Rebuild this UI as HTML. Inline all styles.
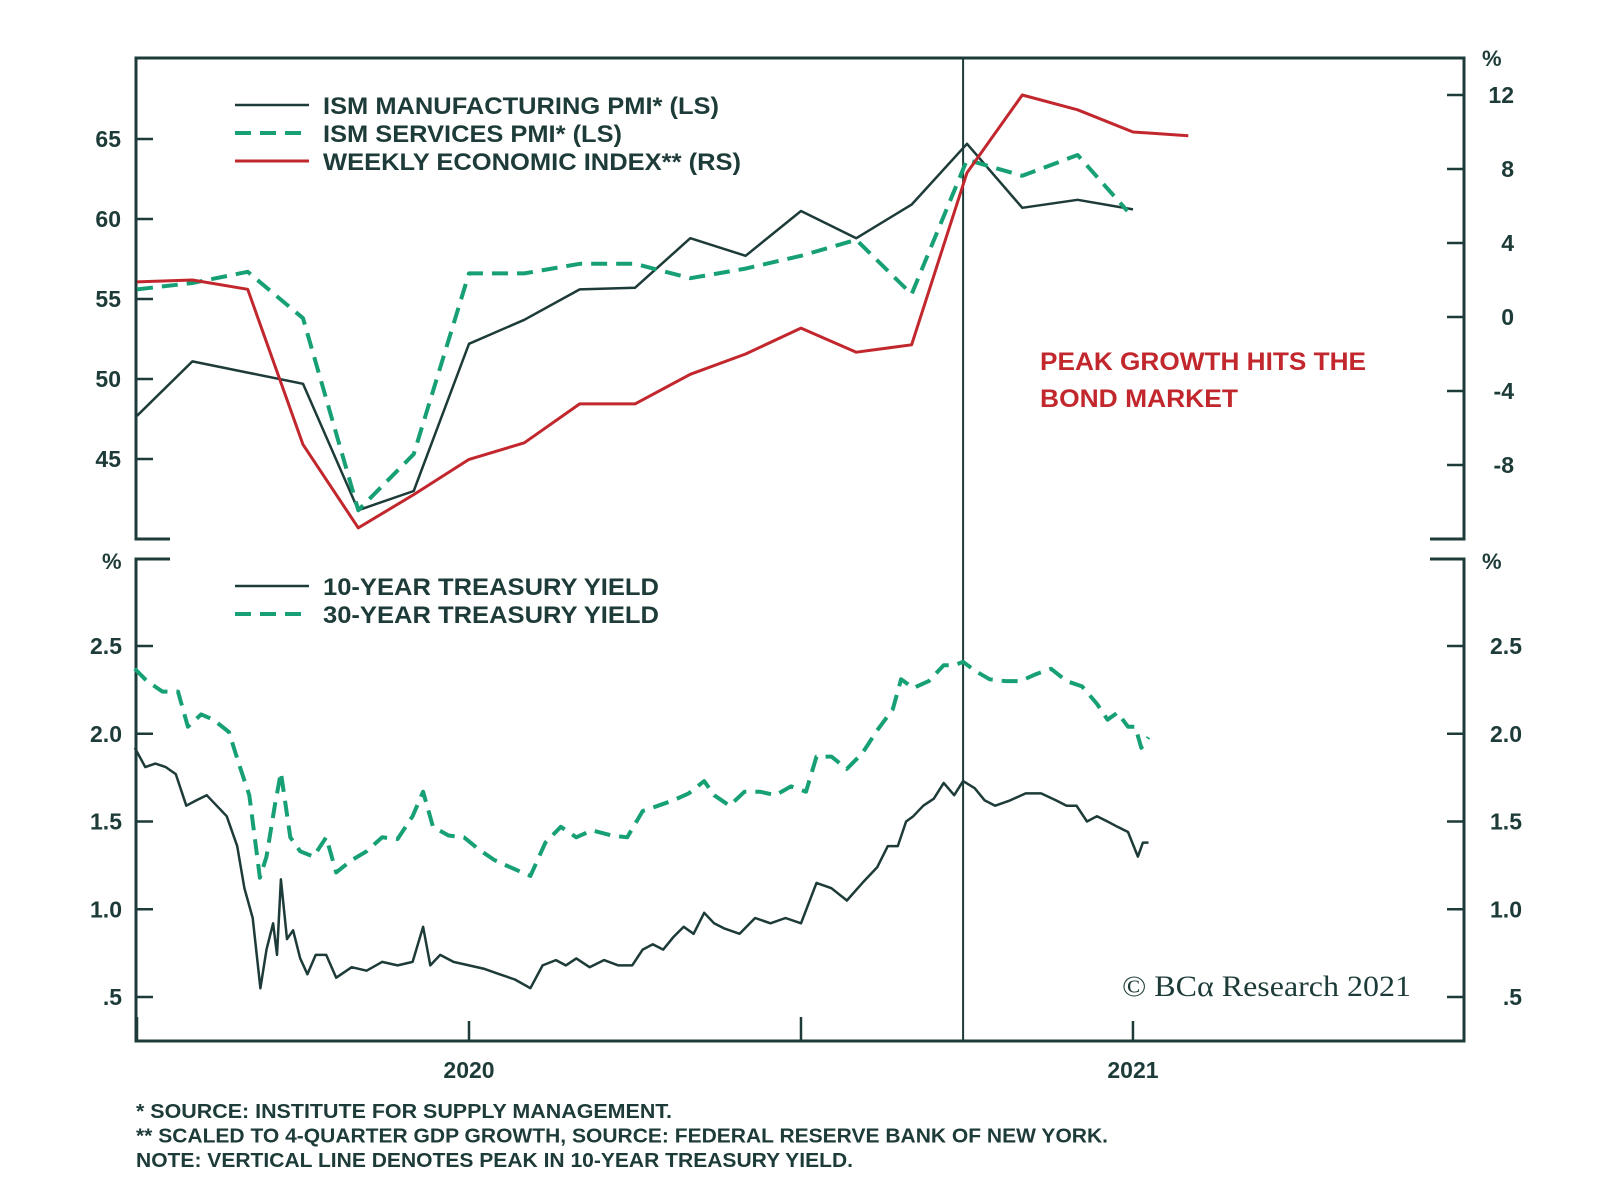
<!DOCTYPE html>
<html><head><meta charset="utf-8"><style>
html,body{margin:0;padding:0;background:#fff;}
svg{display:block;font-family:"Liberation Sans",Arial,sans-serif;}
.t{font-weight:bold;fill:#1d3b38;}
</style></head><body>
<svg id="chart" width="1600" height="1191" viewBox="0 0 1600 1191" xmlns="http://www.w3.org/2000/svg">
<g id="frame"></g>
<g id="series"></g>
<g id="labels"></g>
</svg>
<script>
// Month offsets relative to Jan 2020
const topMonths=[-6,-5,-4,-3,-2,-1,0,1,2,3,4,5,6,7,8,9,10,11,12];
const ismManufacturing=[47.7,51.1,50.4,49.7,41.8,43.0,52.2,53.7,55.6,55.7,58.8,57.7,60.5,58.8,60.9,64.7,60.7,61.2,60.6];
const ismServices=[55.6,56.0,56.7,53.8,41.8,45.3,56.6,56.6,57.2,57.2,56.3,56.9,57.7,58.7,55.3,63.7,62.7,64.0,60.5];
const ismServicesEndMonth=11.9;
const weiMonths=[-6,-5,-4,-3,-2,-1,0,1,2,3,4,5,6,7,8,9,10,11,12,13];
const weeklyEconomicIndex=[1.9,2.0,1.5,-6.9,-11.4,-9.6,-7.7,-6.8,-4.7,-4.7,-3.1,-2.0,-0.6,-1.9,-1.5,7.8,12.0,11.2,10.0,9.8];
const leftTicks=[65,60,55,50,45];
const rightTicks=[12,8,4,0,-4,-8];
const lowerTicks=[2.5,2.0,1.5,1.0,0.5];
const lowerTickLabels=["2.5","2.0","1.5","1.0",".5"];
const yearTicks=[0,12];
const yearLabels=["2020","2021"];
const minorXTicks=[-6,6];
const peakMonth=8.93;
const t10Months=[-6.04,-5.85,-5.67,-5.48,-5.30,-5.11,-4.93,-4.74,-4.56,-4.38,-4.19,-4.06,-3.91,-3.77,-3.66,-3.54,-3.47,-3.40,-3.29,-3.18,-3.05,-2.92,-2.77,-2.58,-2.40,-2.12,-1.85,-1.57,-1.29,-1.02,-0.83,-0.70,-0.52,-0.28,0,0.28,0.55,0.83,1.11,1.33,1.57,1.75,1.94,2.18,2.44,2.70,2.95,3.14,3.32,3.51,3.69,3.88,4.06,4.25,4.43,4.62,4.89,5.17,5.45,5.72,6.00,6.28,6.55,6.83,7.11,7.38,7.57,7.75,7.90,8.03,8.21,8.40,8.58,8.77,8.93,9.14,9.32,9.51,9.78,10.06,10.34,10.61,10.80,10.98,11.17,11.35,11.54,11.72,11.91,12.09,12.18,12.28];
const t10Yield=[1.92,1.81,1.83,1.81,1.77,1.59,1.62,1.65,1.59,1.53,1.36,1.12,0.95,0.55,0.77,0.92,0.74,1.17,0.83,0.88,0.72,0.63,0.74,0.74,0.61,0.67,0.65,0.70,0.68,0.70,0.90,0.68,0.74,0.70,0.68,0.66,0.63,0.60,0.55,0.68,0.71,0.68,0.72,0.67,0.71,0.68,0.68,0.77,0.80,0.77,0.84,0.90,0.86,0.98,0.92,0.89,0.86,0.95,0.92,0.95,0.92,1.15,1.12,1.05,1.15,1.24,1.36,1.36,1.50,1.53,1.59,1.63,1.72,1.65,1.73,1.69,1.62,1.59,1.62,1.66,1.66,1.62,1.59,1.59,1.50,1.53,1.50,1.47,1.44,1.30,1.38,1.38];
const t30Months=[-6.04,-5.82,-5.54,-5.26,-5.08,-4.84,-4.62,-4.34,-4.15,-3.97,-3.78,-3.66,-3.51,-3.40,-3.23,-3.05,-2.81,-2.58,-2.40,-2.12,-1.85,-1.57,-1.29,-1.02,-0.83,-0.65,-0.37,-0.09,0.18,0.46,0.74,1.11,1.38,1.66,1.94,2.22,2.58,2.86,3.14,3.42,3.69,3.97,4.25,4.43,4.71,4.98,5.26,5.54,5.82,6.09,6.28,6.55,6.83,7.11,7.38,7.66,7.81,8.03,8.31,8.58,8.77,8.93,9.14,9.41,9.69,9.97,10.25,10.52,10.80,11.08,11.35,11.54,11.72,11.91,12.04,12.15,12.28];
const t30Yield=[2.37,2.30,2.24,2.24,2.04,2.11,2.08,2.01,1.82,1.65,1.18,1.30,1.59,1.78,1.41,1.33,1.30,1.41,1.21,1.28,1.33,1.41,1.40,1.53,1.67,1.47,1.42,1.41,1.34,1.28,1.24,1.19,1.38,1.47,1.41,1.45,1.42,1.41,1.56,1.59,1.62,1.66,1.73,1.65,1.59,1.67,1.67,1.65,1.70,1.67,1.87,1.87,1.80,1.89,2.02,2.14,2.31,2.26,2.30,2.39,2.39,2.41,2.36,2.31,2.30,2.30,2.34,2.37,2.30,2.27,2.17,2.08,2.12,2.04,2.04,1.92,1.98];

const NS="http://www.w3.org/2000/svg";
const L=136,R=1464,TOP=58,TB=539,LT=559,BOT=1041;
const DARK="#1d3b38",GREEN="#17a075",RED="#c1272d";
const xS=m=>469+m*55.33;
const yL=v=>139+(65-v)*16;
const yR=v=>95+(12-v)*18.5;
const yB=v=>646+(2.5-v)*175.5;
function mk(tag,attrs,parent){const e=document.createElementNS(NS,tag);for(const k in attrs)e.setAttribute(k,attrs[k]);parent.appendChild(e);return e;}
const frame=document.getElementById('frame'),series=document.getElementById('series'),labels=document.getElementById('labels');
function line(x1,y1,x2,y2,w,c,p){return mk('line',{x1,y1,x2,y2,stroke:c||DARK,'stroke-width':w||2.5},p);}
function text(x,y,s,size,anchor,p,fill,len){const t=mk('text',{x,y,'font-size':size,'text-anchor':anchor||'start',class:'t'},p);if(fill)t.setAttribute('fill',fill),t.style.fill=fill;if(len){t.setAttribute('textLength',len);t.setAttribute('lengthAdjust','spacingAndGlyphs');}t.textContent=s;return t;}
let e;
e=mk('path',{d:`M${L+34} ${TB}H${L}V${TOP}H${R}V${TB}H${R-34}`,fill:'none',stroke:DARK,'stroke-width':3},frame);

e=mk('path',{d:`M${L+34} ${LT}H${L}V${BOT}H${R}V${LT}H${R-34}`,fill:'none',stroke:DARK,'stroke-width':3},frame);

leftTicks.forEach(v=>{const y=yL(v);e=line(L,y,L+17,y,2.5,DARK,frame);
 e=text(121,y+8,String(v),23,'end',labels);});
rightTicks.forEach(v=>{const y=yR(v);e=line(R-17,y,R,y,2.5,DARK,frame);
 e=text(1514,y+8,String(v),23,'end',labels);});
lowerTicks.forEach((v,i)=>{const y=yB(v);e=line(L,y,L+17,y,2.5,DARK,frame);
 e=line(R-17,y,R,y,2.5,DARK,frame);
 e=text(122,y+8,lowerTickLabels[i],23,'end',labels);
 e=text(1522,y+8,lowerTickLabels[i],23,'end',labels);});
yearTicks.forEach((m,i)=>{const x=xS(m);e=line(x,BOT-20,x,BOT,2.5,DARK,frame);
 e=text(x,1078,yearLabels[i],23,'middle',labels);});
minorXTicks.forEach(m=>{const x=xS(m);e=line(x,BOT-24,x,BOT,2.5,DARK,frame);});
e=line(xS(peakMonth),TOP,xS(peakMonth),BOT,2,DARK,frame);
e=text(1482,66,'%',22,'start',labels);
e=text(102,569,'%',22,'start',labels);
e=text(1482,569,'%',22,'start',labels);
function path(xs,ys,fx,fy,c,w,dash,name){const d=xs.map((m,i)=>(i?'L':'M')+fx(m).toFixed(1)+' '+fy(ys[i]).toFixed(1)).join(' ');
 const p=mk('path',{d,fill:'none',stroke:c,'stroke-width':w,'stroke-linejoin':'round'},series);if(dash)p.setAttribute('stroke-dasharray',dash);
 return p;}
const svcMonths=topMonths.map((m,i)=>i===topMonths.length-1?ismServicesEndMonth:m);
path(topMonths,ismManufacturing,xS,yL,DARK,2.5,null,'ism-manufacturing-line');
path(svcMonths,ismServices,xS,yL,GREEN,4,'16 9','ism-services-line');
path(weiMonths,weeklyEconomicIndex,xS,yR,RED,3,null,'weekly-economic-index-line');
path(t10Months,t10Yield,xS,yB,DARK,2.5,null,'ten-year-yield-line');
path(t30Months,t30Yield,xS,yB,GREEN,4,'16 9','thirty-year-yield-line');
function legend(y,c,dash,w,label,len,name){const g=mk('g',{},labels);
 const l=line(235,y-9,309,y-9,w,c,g);if(dash)l.setAttribute('stroke-dasharray',dash);text(323,y,label,24,'start',g,null,len);}
legend(114,DARK,null,2.5,'ISM MANUFACTURING PMI* (LS)',396,'legend-ism-manufacturing');
legend(142,GREEN,'16 9',4,'ISM SERVICES PMI* (LS)',299,'legend-ism-services');
legend(170,RED,null,3,'WEEKLY ECONOMIC INDEX** (RS)',418,'legend-weekly-economic-index');
legend(595,DARK,null,2.5,'10-YEAR TREASURY YIELD',336,'legend-ten-year-yield');
legend(623,GREEN,'16 9',4,'30-YEAR TREASURY YIELD',336,'legend-thirty-year-yield');
e=text(1040,370,'PEAK GROWTH HITS THE',25,'start',labels,RED,326);e.style.fontWeight='600';
e=text(1040,407,'BOND MARKET',25,'start',labels,RED,198);e.style.fontWeight='600';
e=mk('text',{x:1122,y:996,'font-size':30,'font-family':'"Liberation Serif",serif',fill:DARK,textLength:289,lengthAdjust:'spacingAndGlyphs'},labels);e.textContent='© BCα Research 2021';

const notes=['*  SOURCE: INSTITUTE FOR SUPPLY MANAGEMENT.','** SCALED TO 4-QUARTER GDP GROWTH, SOURCE: FEDERAL RESERVE BANK OF NEW YORK.','NOTE: VERTICAL LINE DENOTES PEAK IN 10-YEAR TREASURY YIELD.'];
const noteLens=[536,972,717];
notes.forEach((s,i)=>{e=text(136,1118+i*24.5,s,20,'start',labels,null,noteLens[i]);});
</script>
</body></html>
